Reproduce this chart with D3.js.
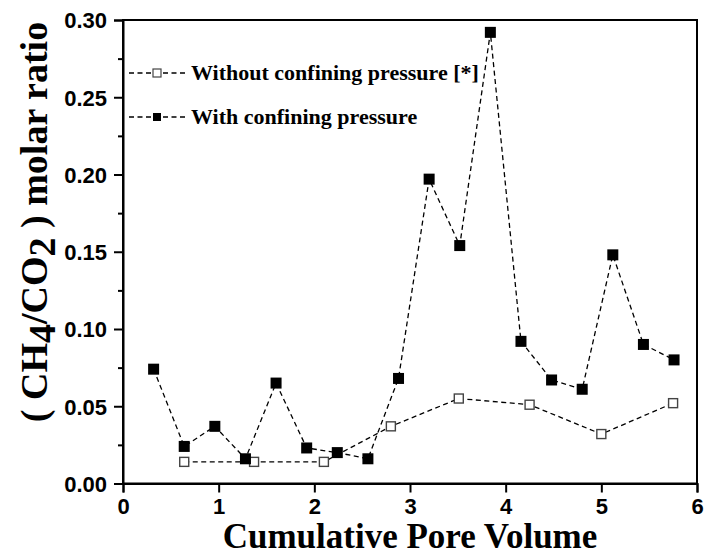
<!DOCTYPE html>
<html>
<head>
<meta charset="utf-8">
<script src="https://cdn.jsdelivr.net/npm/d3@7"></script>
<style>
  body { margin: 0; background: #fff; }
  .tick text { font-family: "Liberation Sans", Arial, sans-serif; font-weight: bold; font-size: 22px; fill: #000; }
  .axisTitle, .legendText { font-family: "Liberation Serif", "Times New Roman", serif; font-weight: bold; fill: #000; }
</style>
</head>
<body>
<div id="chart"></div>
<script>
// CH4/CO2 molar ratio against cumulative pore volume
var withX = [0.32, 0.64, 0.96, 1.28, 1.60, 1.92, 2.24, 2.56, 2.88, 3.20, 3.52, 3.84, 4.16, 4.48, 4.80, 5.12, 5.44, 5.76];
var withY = [0.074, 0.024, 0.037, 0.016, 0.065, 0.023, 0.020, 0.016, 0.068, 0.197, 0.154, 0.292, 0.092, 0.067, 0.061, 0.148, 0.090, 0.080];
var withoutX = [0.64, 1.37, 2.10, 2.80, 3.51, 4.25, 5.00, 5.75];
var withoutY = [0.014, 0.014, 0.014, 0.037, 0.055, 0.051, 0.032, 0.052];

var xTicks = [0, 1, 2, 3, 4, 5, 6];
var yTicks = [0, 0.05, 0.10, 0.15, 0.20, 0.25, 0.30];
var yMinorTicks = [0.025, 0.075, 0.125, 0.175, 0.225, 0.275];

var seriesNames = ["Without confining pressure [*]", "With confining pressure"];

var svgWidth = 705;
var svgHeight = 559;

var margin = { top: 20, right: 8, bottom: 75.5, left: 123 };
var width = svgWidth - margin.left - margin.right;
var height = svgHeight - margin.top - margin.bottom;

var svg = d3.select("#chart")
  .append("svg")
  .attr("width", svgWidth)
  .attr("height", svgHeight);

var chartGroup = svg.append("g")
  .attr("transform", `translate(${margin.left}, ${margin.top})`);

var xScale = d3.scaleLinear().domain([0, 6]).range([0, width]);
var yScale = d3.scaleLinear().domain([0, 0.30]).range([height, 0]);

// frame (top and right sides carry no ticks)
chartGroup.append("rect")
  .attr("width", width)
  .attr("height", height)
  .attr("fill", "none")
  .attr("stroke", "#000")
  .attr("stroke-width", 2);

// minor y ticks
chartGroup.append("g")
  .call(d3.axisLeft(yScale).tickValues(yMinorTicks).tickSize(5).tickFormat(""))
  .call(g => g.select(".domain").remove())
  .selectAll("line").attr("stroke-width", 2);

var bottomAxis = d3.axisBottom(xScale).tickValues(xTicks).tickSize(9).tickPadding(6).tickFormat(d3.format("d"));
var leftAxis = d3.axisLeft(yScale).tickValues(yTicks).tickSize(9).tickPadding(7).tickFormat(d3.format(".2f"));

chartGroup.append("g")
  .attr("transform", `translate(0, ${height})`)
  .call(bottomAxis)
  .call(g => g.select(".domain").attr("stroke-width", 2))
  .call(g => g.selectAll(".tick line").attr("stroke-width", 2));

chartGroup.append("g")
  .call(leftAxis)
  .call(g => g.select(".domain").attr("stroke-width", 2))
  .call(g => g.selectAll(".tick line").attr("stroke-width", 2))
  .call(g => g.selectAll(".tick text").attr("dy", "0.36em"));

var withData = withX.map((x, i) => ({ x: x, y: withY[i] }));
var withoutData = withoutX.map((x, i) => ({ x: x, y: withoutY[i] }));

var line = d3.line()
  .x(d => xScale(d.x))
  .y(d => yScale(d.y));

chartGroup.append("path")
  .datum(withoutData)
  .attr("d", line)
  .attr("fill", "none")
  .attr("stroke", "#000")
  .attr("stroke-width", 1.3)
  .attr("stroke-dasharray", "5,3.5");

chartGroup.append("path")
  .datum(withData)
  .attr("d", line)
  .attr("fill", "none")
  .attr("stroke", "#000")
  .attr("stroke-width", 1.3)
  .attr("stroke-dasharray", "5,3.5");

// open squares
var openSize = 9;
chartGroup.selectAll(".openSq")
  .data(withoutData)
  .enter()
  .append("rect")
  .attr("class", "openSq")
  .attr("x", d => xScale(d.x) - openSize / 2)
  .attr("y", d => yScale(d.y) - openSize / 2)
  .attr("width", openSize)
  .attr("height", openSize)
  .attr("fill", "#fff")
  .attr("stroke", "#444")
  .attr("stroke-width", 1.4);

// filled squares
var fillSize = 11;
chartGroup.selectAll(".fillSq")
  .data(withData)
  .enter()
  .append("rect")
  .attr("class", "fillSq")
  .attr("x", d => xScale(d.x) - fillSize / 2)
  .attr("y", d => yScale(d.y) - fillSize / 2)
  .attr("width", fillSize)
  .attr("height", fillSize)
  .attr("fill", "#000");

// legend
var legend = svg.append("g").attr("transform", "translate(129, 0)");
var legendRows = [73, 117];
seriesNames.forEach(function(name, i) {
  var row = legend.append("g").attr("transform", `translate(0, ${legendRows[i]})`);
  row.append("line")
    .attr("x1", 0).attr("x2", 56)
    .attr("stroke", "#000")
    .attr("stroke-width", 1.3)
    .attr("stroke-dasharray", "5,3.5");
  row.append("rect")
    .attr("x", 24).attr("y", -4)
    .attr("width", 8).attr("height", 8)
    .attr("fill", i === 0 ? "#fff" : "#000")
    .attr("stroke", i === 0 ? "#444" : "none")
    .attr("stroke-width", 1.2);
  row.append("text")
    .attr("class", "legendText")
    .attr("x", 62)
    .attr("y", 7)
    .attr("font-size", "22px")
    .text(name);
});

// axis titles
svg.append("text")
  .attr("class", "axisTitle")
  .attr("x", margin.left + width / 2)
  .attr("y", 548)
  .attr("text-anchor", "middle")
  .attr("font-size", "35px")
  .text("Cumulative Pore Volume");

var yTitle = svg.append("text")
  .attr("class", "axisTitle")
  .attr("transform", "translate(47, 222) rotate(-90)")
  .attr("text-anchor", "middle")
  .attr("font-size", "38px");
yTitle.append("tspan").text("( CH");
yTitle.append("tspan").attr("baseline-shift", "-22%").text("4");
yTitle.append("tspan").text("/CO");
yTitle.append("tspan").attr("baseline-shift", "-22%").text("2");
yTitle.append("tspan").text(" ) molar ratio");
</script>
</body>
</html>
